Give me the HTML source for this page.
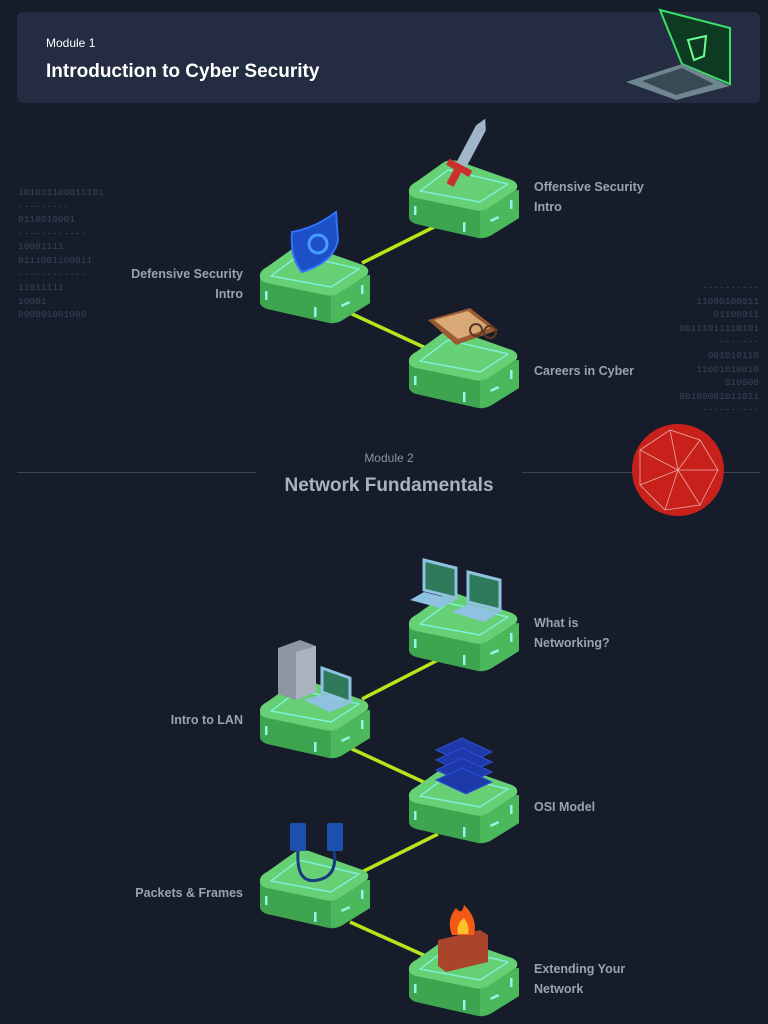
<!DOCTYPE html>
<html><head><meta charset="utf-8"><style>
body{margin:0;width:768px;height:1024px;background:#161c2a;overflow:hidden;position:relative;font-family:"Liberation Sans",sans-serif}
.hdr{position:absolute;left:17px;top:12px;width:743px;height:91px;background:#232c40;border-radius:6px}
.t{position:absolute;color:#9aa2b1;font-weight:bold;font-size:12.5px;line-height:20px}
.bin{position:absolute;font-family:"Liberation Mono",monospace;font-size:9.5px;line-height:13.6px;color:#3a4357;white-space:pre}
</style></head><body>
<div class="hdr"></div>
<div style="position:absolute;left:46px;top:36px;color:#fff;font-size:12px">Module 1</div>
<div style="position:absolute;left:46px;top:61px;color:#fff;font-size:19px;font-weight:bold">Introduction to Cyber Security</div>
<div class="bin" style="left:18px;top:186px">101011100011101
---------
0110010001
------------
10001111
0111001100011
------------
11011111
10001
000001001000</div>
<div class="bin" style="right:9px;top:281px;text-align:right">----------
11000100011
01100011
00111011110101
-------
001010110
11001010010
010000
00100001011011
----------</div>
<div style="position:absolute;left:17px;top:472px;width:239px;height:1px;background:#3c4558"></div>
<div style="position:absolute;left:522px;top:472px;width:238px;height:1px;background:#3c4558"></div>
<div style="position:absolute;left:289px;width:200px;text-align:center;top:451px;color:#8a93a3;font-size:12px">Module 2</div>
<div style="position:absolute;left:239px;width:300px;text-align:center;top:475px;color:#aab2c0;font-size:19px;font-weight:bold">Network Fundamentals</div>

<svg width="768" height="1024" style="position:absolute;left:0;top:0">
<defs>
<g id="tile">
<path d="M-55,4 L-55,30 Q-54,34 -48,36 L14,50 Q20,51 26,48 L55,30 L55,2 Z" fill="#3fa450"/>
<path d="M16,22 L16,50 L26,48 L55,30 L55,2 Z" fill="#4cb85c"/>
<path d="M-55,4 Q-56,-2 -48,-6 L-20,-26 Q-14,-29 -6,-27 L48,-8 Q56,-4 52,2 L24,20 Q18,24 10,22 L-48,10 Q-55,8 -55,4 Z" fill="#67cf74"/>
<path d="M-44,3 L-16,-18 L44,-4 L16,14 Z" fill="none" stroke="#7ff0d8" stroke-width="1.5" stroke-linejoin="round"/>
<rect x="-50" y="18" width="2.5" height="9" fill="#8ff7e8"/>
<rect x="-1" y="34" width="2.5" height="10" fill="#8ff7e8"/>
<rect x="46" y="12" width="2.5" height="9" fill="#8ff7e8"/>
<rect x="26" y="30" width="9" height="2.5" fill="#8ff7e8" transform="rotate(-25 30 31)"/>
</g>
</defs>
<g stroke="#b5e61d" stroke-width="3.5">
<line x1="362" y1="263" x2="438" y2="225"/>
<line x1="350" y1="313" x2="430" y2="350"/>
<line x1="362" y1="699" x2="438" y2="660"/>
<line x1="350" y1="748" x2="430" y2="785"/>
<line x1="362" y1="872" x2="438" y2="834"/>
<line x1="350" y1="922" x2="430" y2="958"/>
</g>
<use href="#tile" x="464" y="188"/>
<use href="#tile" x="315" y="273"/>
<use href="#tile" x="464" y="358"/>
<use href="#tile" x="464" y="621"/>
<use href="#tile" x="315" y="708"/>
<use href="#tile" x="464" y="793"/>
<use href="#tile" x="315" y="878"/>
<use href="#tile" x="464" y="966"/>
<!-- sword -->
<g transform="rotate(28 458 170)"><rect x="453" y="122" width="11" height="44" fill="#9fb7c8"/><polygon points="453,122 458,112 464,122" fill="#9fb7c8"/><rect x="445" y="164" width="26" height="7" fill="#c9302c"/><rect x="454" y="171" width="8" height="16" fill="#c9302c"/></g>
<!-- shield -->
<path d="M292,232 Q315,228 336,212 L338,240 Q334,262 302,272 Q290,258 292,232 Z" fill="#1d4fc7" stroke="#2f73ff" stroke-width="2"/>
<circle cx="318" cy="244" r="9" fill="none" stroke="#4a9bff" stroke-width="3"/>
<!-- clipboard -->
<polygon points="428,320 470,308 498,330 456,345" fill="#9a5a32"/><polygon points="434,320 468,311 490,328 458,339" fill="#d9a978"/>
<circle cx="476" cy="330" r="6" fill="none" stroke="#5a3a22" stroke-width="2"/><circle cx="490" cy="332" r="6" fill="none" stroke="#5a3a22" stroke-width="2"/>
<!-- laptop header -->
<polygon points="660,10 730,28 730,84 682,64" fill="#0e3a22" stroke="#39e06a" stroke-width="2"/>
<path d="M688,40 L706,36 L704,56 L694,60 Z" fill="none" stroke="#6aff8f" stroke-width="2"/>
<polygon points="626,82 682,64 730,86 676,100" fill="#6f8690"/>
<polygon points="642,81 682,68 714,84 676,95" fill="#3a4a55"/>
<!-- sphere -->
<circle cx="678" cy="470" r="46" fill="#c8211c"/>
<g stroke="#f3c9c6" stroke-width="0.8" fill="none" opacity="0.8"><path d="M640,450 L670,430 L700,440 L718,470 L700,505 L665,510 L640,485 Z M670,430 L678,470 L718,470 M678,470 L700,505 M678,470 L640,485 M678,470 L640,450 M678,470 L665,510 M700,440 L678,470"/></g>
<!-- laptops networking -->
<polygon points="424,560 456,568 456,598 424,590" fill="#2e7a5a" stroke="#8fc2e0" stroke-width="3"/>
<polygon points="424,592 456,600 440,608 410,600" fill="#8fc2e0"/>
<polygon points="468,572 500,580 500,610 468,602" fill="#2e7a5a" stroke="#8fc2e0" stroke-width="3"/>
<polygon points="468,604 500,612 484,622 452,612" fill="#8fc2e0"/>
<!-- server + laptop -->
<polygon points="278,648 300,640 316,646 316,692 296,700 278,694" fill="#8d96a3"/><polygon points="296,652 316,646 316,692 296,700" fill="#aab3bf"/>
<polygon points="322,668 350,678 350,702 322,692" fill="#2e7a5a" stroke="#8fc2e0" stroke-width="3"/>
<polygon points="304,700 322,694 350,704 330,712" fill="#8fc2e0"/>
<!-- OSI layers -->
<polygon points="436,750 462,738 492,752 466,764" fill="#1e3aa8" stroke="#2c4fd8"/>
<polygon points="436,760 462,748 492,762 466,774" fill="#1e3aa8" stroke="#2c4fd8"/>
<polygon points="436,770 462,758 492,772 466,784" fill="#1e3aa8" stroke="#2c4fd8"/>
<polygon points="436,780 462,768 492,782 466,794" fill="#1e3aa8" stroke="#2c4fd8"/>
<!-- usb -->
<rect x="290" y="823" width="16" height="28" fill="#1c4fae" rx="2"/><rect x="327" y="823" width="16" height="28" fill="#1c4fae" rx="2"/>
<path d="M298,851 Q296,885 318,880 Q338,876 334,851" fill="none" stroke="#1a3a80" stroke-width="3"/>
<!-- firewall -->
<polygon points="438,940 480,930 488,935 488,962 446,972 438,966" fill="#a9452a"/>
<path d="M452,935 Q446,920 456,908 Q462,916 464,905 Q478,918 474,935 Z" fill="#f25a16"/><path d="M458,934 Q456,924 464,918 Q470,926 468,934 Z" fill="#ffc02a"/>
</svg>
<div class="t" style="left:534px;top:177px">Offensive Security<br>Intro</div>
<div class="t" style="left:100px;width:143px;text-align:right;top:264px">Defensive Security<br>Intro</div>
<div class="t" style="left:534px;top:361px">Careers in Cyber</div>
<div class="t" style="left:534px;top:613px">What is<br>Networking?</div>
<div class="t" style="left:100px;width:143px;text-align:right;top:710px">Intro to LAN</div>
<div class="t" style="left:534px;top:797px">OSI Model</div>
<div class="t" style="left:100px;width:143px;text-align:right;top:883px">Packets &amp; Frames</div>
<div class="t" style="left:534px;top:959px">Extending Your<br>Network</div>
</body></html>
